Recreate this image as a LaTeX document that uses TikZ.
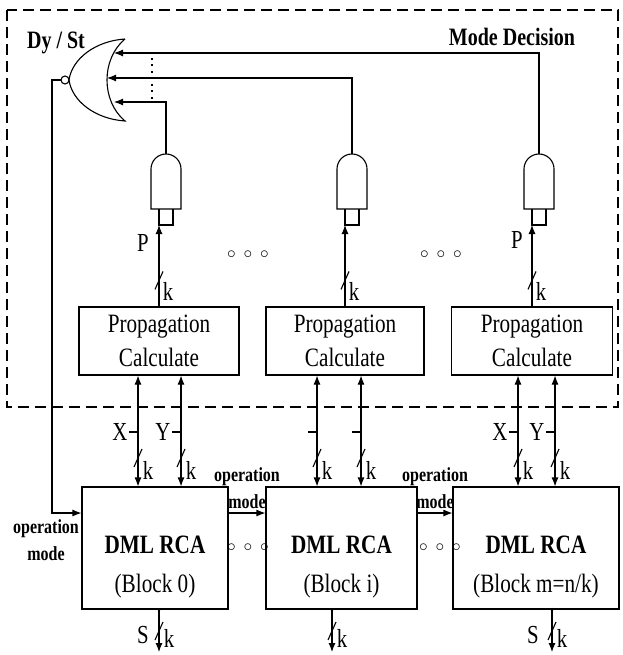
\documentclass[tikz,border=0pt]{standalone}
\usepackage{fontspec}
\setmainfont{Liberation Serif}[FakeStretch=0.8]
\usetikzlibrary{arrows.meta, positioning, calc}
\tikzset{
	>={Latex[length=9pt, width=7pt]}, % filled arrow heads
	frame/.style={line width=2.8pt, dash pattern=on 11pt off 6pt}, % mode decision border
	prop/.style={draw, minimum height=68pt, align=center, inner sep=0pt, font=\fontsize{26.5}{34}\selectfont},
	rca/.style={draw, minimum height=122pt},
	rcatext/.style={align=center, inner sep=0pt, font=\fontsize{26.5}{39}\selectfont},
	lab/.style={inner sep=0pt, font=\fontsize{26}{26}\selectfont},
	boldlab/.style={inner sep=0pt, font=\bfseries\fontsize{25}{25}\selectfont},
	opm/.style={align=center, inner sep=0pt, font=\bfseries\fontsize{20}{27}\selectfont},
	dots/.style={inner sep=0pt, font=\fontsize{19}{19}\selectfont},
	busslash/.pic={\draw (-4pt,-9pt) -- (4pt,9pt);}, % bus width mark
}

\begin{document}
\begin{tikzpicture}[x=1pt, y=-1pt, line width=1.1pt]
	\useasboundingbox (0,0) rectangle (622,655);

	% mode decision part
	\draw[frame] (7,10) rectangle (618,407);
	\node[boldlab] (md) at (512,37) {Mode Decision};
	\node[boldlab] (dy) at (56,43) {Dy / St};

	% nor gate, output to the left
	\draw (125,39) .. controls (101,59) and (101,101) .. (125,121)
		.. controls (95,119) and (72,101) .. (69,80)
		.. controls (72,59) and (95,41) .. (125,39);
	\draw (65,80) circle (4pt);
	\coordinate (nor) at (61,80);
	\coordinate (n1) at (114,53);
	\coordinate (n2) at (107,78);
	\coordinate (n3) at (114,102);

	% propagation blocks
	\node[prop, minimum width=160pt] (p0) at (159,341) {Propagation\\Calculate};
	\node[prop, minimum width=158pt] (p1) at (345,341) {Propagation\\Calculate};
	\node[prop, minimum width=161pt] (p2) at (532,341) {Propagation\\Calculate};

	% rca blocks
	\node[rca, minimum width=146pt] (r0) at (155,548) {};
	\node[rca, minimum width=151pt] (r1) at (341.5,548) {};
	\node[rca, minimum width=166pt] (r2) at (536,548) {};
	\node[rcatext] (t0) at (155,567) {\textbf{DML RCA}\\(Block 0)};
	\node[rcatext] (t1) at (341.5,567) {\textbf{DML RCA}\\(Block i)};
	\node[rcatext] (t2) at (536,567) {\textbf{DML RCA}\\(Block m=n/k)};

	% and gates
	\foreach \i/\x in {0/166, 1/352, 2/539}{
		\draw (\x-15,209) -- (\x-15,169) arc[start angle=180, end angle=0, radius=15pt] -- (\x+15,209) -- cycle;
		\draw (\x-7,209) -- (\x-7,225) -- (\x+7,225) -- (\x+7,209);
		\coordinate (g\i) at (\x,154);
		\coordinate (gi\i) at (\x-7,225);
	}

	% gate outputs into the nor gate
	\draw[->] (g2) |- (n1);
	\draw[->] (g1) |- (n2);
	\draw[->] (g0) |- (n3);
	\draw[line width=1.6pt, dash pattern=on 2pt off 4.5pt] (152,58) -- (152,102);

	% P buses
	\foreach \i in {0,1,2}{
		\draw[->] (p\i.north) -- (gi\i);
		\pic at ($(p\i.north)+(0,-26)$) {busslash};
		\node[lab] (k\i) at ($(p\i.north)+(9,-15)$) {k};
	}
	\node[lab] (P0) at (143,243) {P};
	\node[lab] (P2) at (517,240) {P};

	% X and Y buses
	\foreach \i/\xa/\xb in {0/138/181, 1/317/361, 2/518/555}{
		\coordinate (x\i) at (\xa,432);
		\coordinate (y\i) at (\xb,432);
		\draw[<->] (r\i.north -| x\i) -- (p\i.south -| x\i);
		\draw[<->] (r\i.north -| y\i) -- (p\i.south -| y\i);
		\draw (x\i) -- ++(-9,0);
		\draw (y\i) -- ++(-9,0);
		\pic at (\xa,458) {busslash};
		\pic at (\xb,458) {busslash};
		\node[lab] (kx\i) at (\xa+10,470) {k};
		\node[lab] (ky\i) at (\xb+10,470) {k};
	}
	\node[lab, anchor=east] (X0) at ($(x0)+(-10,0)$) {X};
	\node[lab, anchor=east] (Y0) at ($(y0)+(-10,0)$) {Y};
	\node[lab, anchor=east] (X2) at ($(x2)+(-10,0)$) {X};
	\node[lab, anchor=east] (Y2) at ($(y2)+(-10,0)$) {Y};

	% sum outputs
	\foreach \i/\sx in {0/159, 1/332, 2/552}{
		\coordinate (s\i) at (\sx,652);
		\draw[->] (r\i.south -| s\i) -- (s\i);
		\fill (r\i.south -| s\i) circle (1.8pt);
		\pic at (\sx,631) {busslash};
		\node[lab] (ks\i) at (\sx+10,638) {k};
	}
	\node[lab] (S0) at (143,635) {S};
	\node[lab] (S2) at (533,635) {S};

	% operation mode
	\draw[->] (nor) -- ++(-9,0) |- ([yshift=35pt]r0.west);
	\draw[->] ([yshift=35pt]r0.east) -- ([yshift=35pt]r1.west);
	\draw[->] ([yshift=35pt]r1.east) -- ([yshift=35pt]r2.west);
	\node[opm] (om0) at (46,540) {operation\\mode};
	\node[opm] (om1) at (247,488) {operation\\mode};
	\node[opm] (om2) at (435,488) {operation\\mode};

	% dots
	\node[dots] (d0) at (248,255) {$\circ\hspace{4pt}\circ\hspace{4pt}\circ$};
	\node[dots] (d1) at (441,255) {$\circ\hspace{4pt}\circ\hspace{4pt}\circ$};
	\node[dots] (d2) at (248,548) {$\circ\hspace{4pt}\circ\hspace{4pt}\circ$};
	\node[dots] (d3) at (440,548) {$\circ\hspace{4pt}\circ\hspace{4pt}\circ$};
\end{tikzpicture}
\end{document}
